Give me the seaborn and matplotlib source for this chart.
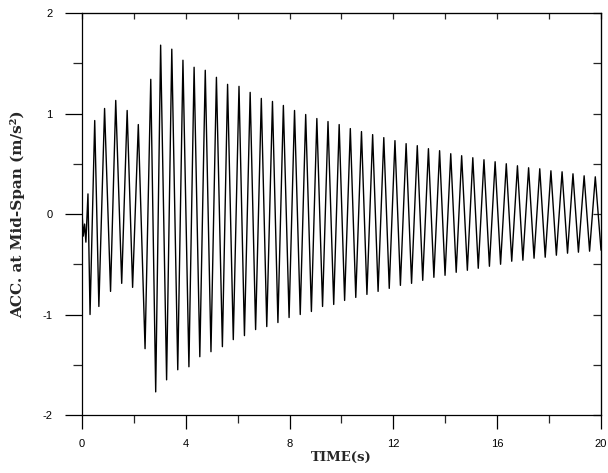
import matplotlib
matplotlib.use("Agg")
import matplotlib.pyplot as plt
import seaborn as sns
import numpy as np
import pandas as pd

# ---- data (extrema of the response) ----
early_t = [0.00, 0.05, 0.10, 0.15, 0.23, 0.31, 0.49, 0.65, 0.87, 1.10, 1.30, 1.53,
           1.74, 1.95, 2.17, 2.43, 2.65]
early_v = [0.02, -0.22, -0.10, -0.28, 0.20, -1.00, 0.93, -0.92, 1.05, -0.77, 1.13, -0.69,
           1.03, -0.73, 0.89, -1.34, 1.34]

peak_t = [3.03, 3.46, 3.89, 4.32, 4.75, 5.18, 5.61, 6.05, 6.48, 6.91, 7.34, 7.76,
          8.19, 8.62, 9.05, 9.48, 9.91, 10.34, 10.77, 11.20, 11.63, 12.06, 12.49, 12.92,
          13.35, 13.78, 14.21, 14.63, 15.06, 15.49, 15.92, 16.35, 16.78, 17.21, 17.64,
          18.07, 18.50, 18.92, 19.35, 19.78]
peak_v = [1.68, 1.64, 1.53, 1.46, 1.43, 1.36, 1.29, 1.27, 1.21, 1.15, 1.12, 1.08,
          1.03, 0.99, 0.95, 0.92, 0.89, 0.85, 0.82, 0.79, 0.76, 0.73, 0.70, 0.68,
          0.65, 0.63, 0.60, 0.58, 0.56, 0.54, 0.52, 0.50, 0.48, 0.46, 0.45, 0.43,
          0.42, 0.40, 0.38, 0.37]

trough_t = [2.84, 3.26, 3.69, 4.12, 4.54, 4.97, 5.41, 5.83, 6.26, 6.69, 7.12, 7.55,
            7.98, 8.41, 8.84, 9.27, 9.70, 10.12, 10.55, 10.98, 11.41, 11.84, 12.27, 12.70,
            13.13, 13.56, 13.99, 14.42, 14.85, 15.27, 15.70, 16.13, 16.56, 16.99, 17.42,
            17.85, 18.28, 18.71, 19.13, 19.56, 20.00]
trough_v = [-1.77, -1.65, -1.55, -1.52, -1.42, -1.37, -1.32, -1.25, -1.21, -1.15, -1.12, -1.08,
            -1.03, -1.00, -0.97, -0.92, -0.90, -0.86, -0.83, -0.80, -0.77, -0.74, -0.71, -0.69,
            -0.66, -0.63, -0.61, -0.58, -0.56, -0.54, -0.52, -0.50, -0.47, -0.46, -0.44,
            -0.43, -0.41, -0.39, -0.38, -0.37, -0.36]

x_major = [0, 4, 8, 12, 16, 20]
x_minor = [2, 6, 10, 14, 18]
x_top = [0, 2, 4, 6, 8, 10, 12, 14, 16, 18, 20]
y_major = [-2, -1, 0, 1, 2]
y_minor = [-1.5, -0.5, 0.5, 1.5]
y_right = [-2, -1.5, -1, -0.5, 0, 0.5, 1, 1.5, 2]

df = pd.DataFrame({
    "t": early_t + peak_t + trough_t,
    "acc": early_v + peak_v + trough_v,
}).sort_values("t")

sns.set_style("ticks")
plt.rcParams["font.family"] = ["Liberation Sans", "DejaVu Sans"]
plt.rcParams["axes.unicode_minus"] = False

fig = plt.figure(figsize=(6.08, 4.73), dpi=100)
ax = fig.add_axes([82/608, 1-415/473, (601-82)/608, (415-13)/473])

sns.lineplot(data=df, x="t", y="acc", ax=ax, color="black", lw=1.0,
             estimator=None, sort=True)

ax.set_xlim(0, 20)
ax.set_ylim(-2, 2)
ax.set_xticks(x_major)
ax.set_xticks(x_minor, minor=True)
ax.set_yticks(y_major)
ax.set_yticks(y_minor, minor=True)
ax.set_xticklabels([str(v) for v in x_major])
ax.set_yticklabels([str(v) for v in y_major])

for s in ax.spines.values():
    s.set_visible(True)
    s.set_color("black")
    s.set_linewidth(0.9)

ax.tick_params(axis="x", which="major", direction="out", length=10, width=0.9,
               pad=7, labelsize=8, colors="black")
ax.tick_params(axis="x", which="minor", direction="out", length=5.5, width=0.9)
ax.tick_params(axis="y", which="major", direction="out", length=12, width=0.9,
               pad=9, labelsize=8, colors="black")
ax.tick_params(axis="y", which="minor", direction="out", length=6.5, width=0.9)

secx = ax.secondary_xaxis("top")
secx.set_xticks(x_top)
secx.tick_params(direction="in", length=4.5, width=0.9, labeltop=False)
secy = ax.secondary_yaxis("right")
secy.set_yticks(y_right)
secy.tick_params(direction="in", length=5.5, width=0.9, labelright=False)

ax.set_xlabel("TIME(s)", family="DejaVu Serif", fontweight="bold", fontsize=9.5)
ax.set_ylabel("ACC. at Mid-Span (m/s²)", family="DejaVu Serif", fontweight="bold",
              fontsize=11)
ax.xaxis.label.set_va("center")
ax.yaxis.label.set_va("center")
ax.xaxis.set_label_coords(0.5, (415-457)/402)
ax.yaxis.set_label_coords((18-82)/519, 0.5)

fig.savefig("out.png", dpi=100)
